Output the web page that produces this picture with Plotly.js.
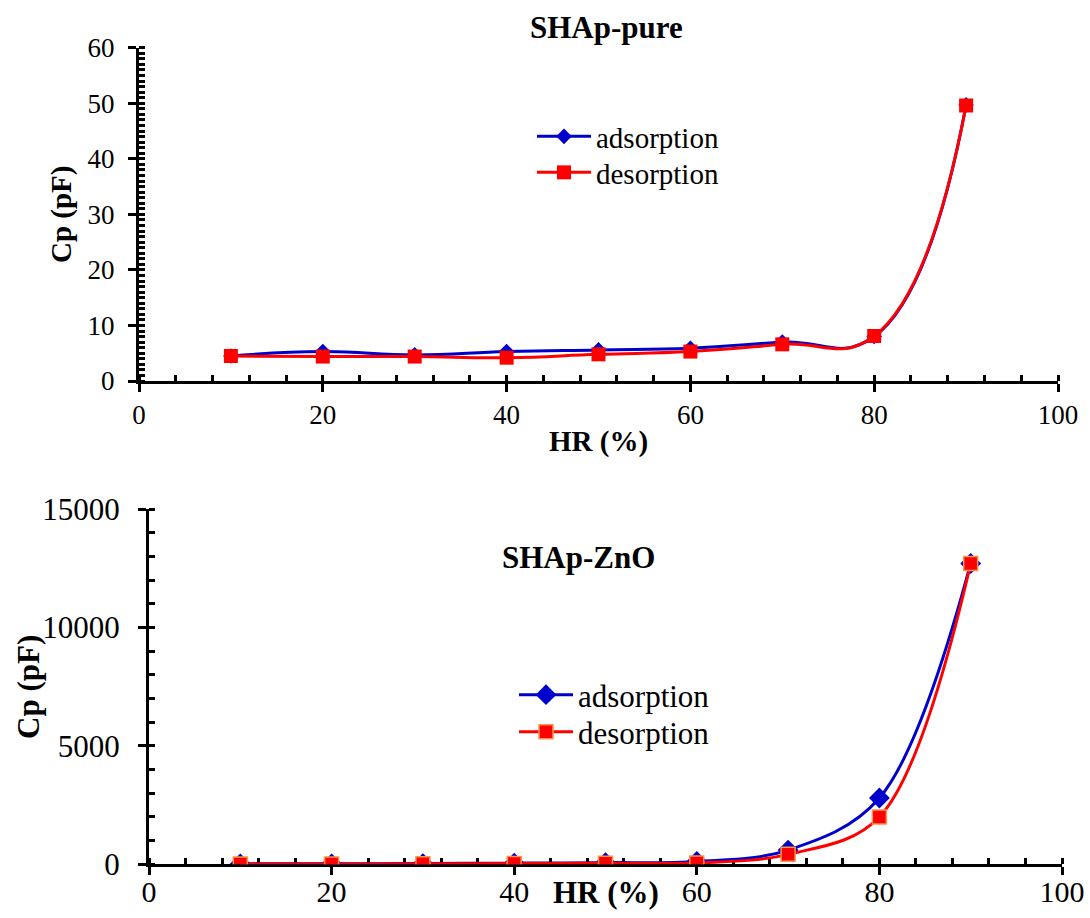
<!DOCTYPE html>
<html>
<head>
<meta charset="utf-8">
<script src="https://cdn.plot.ly/plotly-3.0.1.min.js"></script>
<style>html,body{margin:0;padding:0;background:#fff;}#chart{width:1090px;height:918px;}</style>
</head>
<body>
<div id="chart"></div>
<script>
// ---- data ----
var hr = [10, 20, 30, 40, 50, 60, 70, 80, 90];
var pureAdsorption = [4.5, 5.3, 4.7, 5.3, 5.6, 5.9, 7.0, 8.0, 49.7];
var pureDesorption = [4.5, 4.4, 4.4, 4.2, 4.8, 5.3, 6.6, 8.1, 49.6];
var znoAdsorption = [20, 20, 30, 50, 70, 120, 600, 2800, 12700];
var znoDesorption = [10, 10, 20, 30, 40, 60, 420, 2000, 12700];
var seriesNames = ['adsorption', 'desorption'];
var titles = ['SHAp-pure', 'SHAp-ZnO'];
var xTitle = 'HR (%)';
var yTitle = 'Cp (pF)';

var W = 1090, H = 918;
var FONT = 'Liberation Serif';
var BLUE = '#0000CC', RED = '#FF0000';
function px(x){return x / W;}
function py(y){return 1 - y / H;}

var traces = [
  {x: hr, y: pureAdsorption, name: seriesNames[0], xaxis: 'x', yaxis: 'y', legend: 'legend',
   mode: 'lines+markers', line: {color: BLUE, width: 3, shape: 'spline', smoothing: 1.3},
   marker: {symbol: 'diamond', size: 12, color: BLUE}},
  {x: hr, y: pureDesorption, name: seriesNames[1], xaxis: 'x', yaxis: 'y', legend: 'legend2',
   mode: 'lines+markers', line: {color: RED, width: 3, shape: 'spline', smoothing: 1.3},
   marker: {symbol: 'square', size: 14, color: RED}},
  {x: hr, y: znoAdsorption, name: seriesNames[0], xaxis: 'x2', yaxis: 'y2', legend: 'legend3',
   mode: 'lines+markers', line: {color: BLUE, width: 3, shape: 'spline', smoothing: 1},
   marker: {symbol: 'diamond', size: 16, color: BLUE}},
  {x: hr, y: znoDesorption, name: seriesNames[1], xaxis: 'x2', yaxis: 'y2', legend: 'legend4',
   mode: 'lines+markers', line: {color: RED, width: 3, shape: 'spline', smoothing: 1},
   marker: {symbol: 'square', size: 14, color: RED, line: {color: '#F7964A', width: 1.5}}}
];

function mainAxis(domain, range, dtick, minorDtick, anchor, fs, standoff) {
  return {domain: domain, range: range, dtick: dtick, tick0: 0, anchor: anchor,
    showline: true, linecolor: '#000', linewidth: 3, showgrid: false, zeroline: false,
    ticks: 'outside', ticklen: 8, tickwidth: 3, tickcolor: '#000',
    minor: {ticks: 'inside', dtick: minorDtick, tick0: 0, ticklen: 6, tickwidth: 3, tickcolor: '#000', showgrid: false},
    tickfont: {family: FONT, size: fs, color: '#000'}, ticklabelstandoff: standoff,
    tickformat: 'd', exponentformat: 'none', separatethousands: false, fixedrange: true, layer: 'below traces'};
}
function crossAxis(over, range, dtick, anchor, side) {
  return {overlaying: over, range: range, dtick: dtick, tick0: 0, anchor: anchor, side: side,
    showline: false, showgrid: false, zeroline: false, showticklabels: false,
    ticks: 'inside', ticklen: 7, tickwidth: 3, tickcolor: '#000', fixedrange: true, layer: 'below traces'};
}
function legendAt(x, y, fs) {
  return {x: px(x), y: py(y), xanchor: 'left', yanchor: 'top', bgcolor: 'rgba(0,0,0,0)', borderwidth: 0,
    font: {family: FONT, size: fs, color: '#000'}, itemwidth: 54, tracegroupgap: 0};
}
function label(text, x, y, fs, angle) {
  return {text: '<b>' + text + '</b>', xref: 'paper', yref: 'paper', x: px(x), y: py(y), showarrow: false,
    textangle: angle || 0, xanchor: 'center', yanchor: 'middle', font: {family: FONT, size: fs, color: '#000'}};
}

var topX = [px(139), px(1058)], topY = [py(381), py(47.7)];
var botX = [px(149), px(1062)], botY = [py(864.3), py(509)];

var layout = {
  width: W, height: H, margin: {l: 0, r: 0, t: 0, b: 0},
  paper_bgcolor: '#fff', plot_bgcolor: 'rgba(0,0,0,0)',
  font: {family: FONT, color: '#000'},
  xaxis: mainAxis(topX, [0, 100], 20, 4, 'y', 27, 0),
  yaxis: mainAxis(topY, [0, 60], 10, 1, 'x', 27, 8),
  xaxis2: mainAxis(botX, [0, 100], 20, 4, 'y2', 30, -9),
  yaxis2: mainAxis(botY, [0, 15000], 5000, 1000, 'x2', 31, 12),
  xaxis3: crossAxis('x', [0, 100], 20, 'y', 'bottom'),
  yaxis3: crossAxis('y', [0, 60], 10, 'x', 'left'),
  xaxis4: crossAxis('x2', [0, 100], 20, 'y2', 'bottom'),
  yaxis4: crossAxis('y2', [0, 15000], 5000, 'x2', 'left'),
  legend: legendAt(532, 111, 29),
  legend2: legendAt(532, 147, 29),
  legend3: legendAt(514, 668, 31),
  legend4: legendAt(514, 705, 31),
  showlegend: true,
  annotations: [
    label(titles[0], 607, 27, 31),
    label(titles[1], 578, 557, 31),
    label(xTitle, 599, 442, 29),
    label(xTitle, 606, 892, 31),
    label(yTitle, 62, 215, 29, -90),
    label(yTitle, 28, 687, 31, -90)
  ]
};

Plotly.newPlot('chart', traces, layout, {staticPlot: true, displayModeBar: false});
</script>
</body>
</html>
